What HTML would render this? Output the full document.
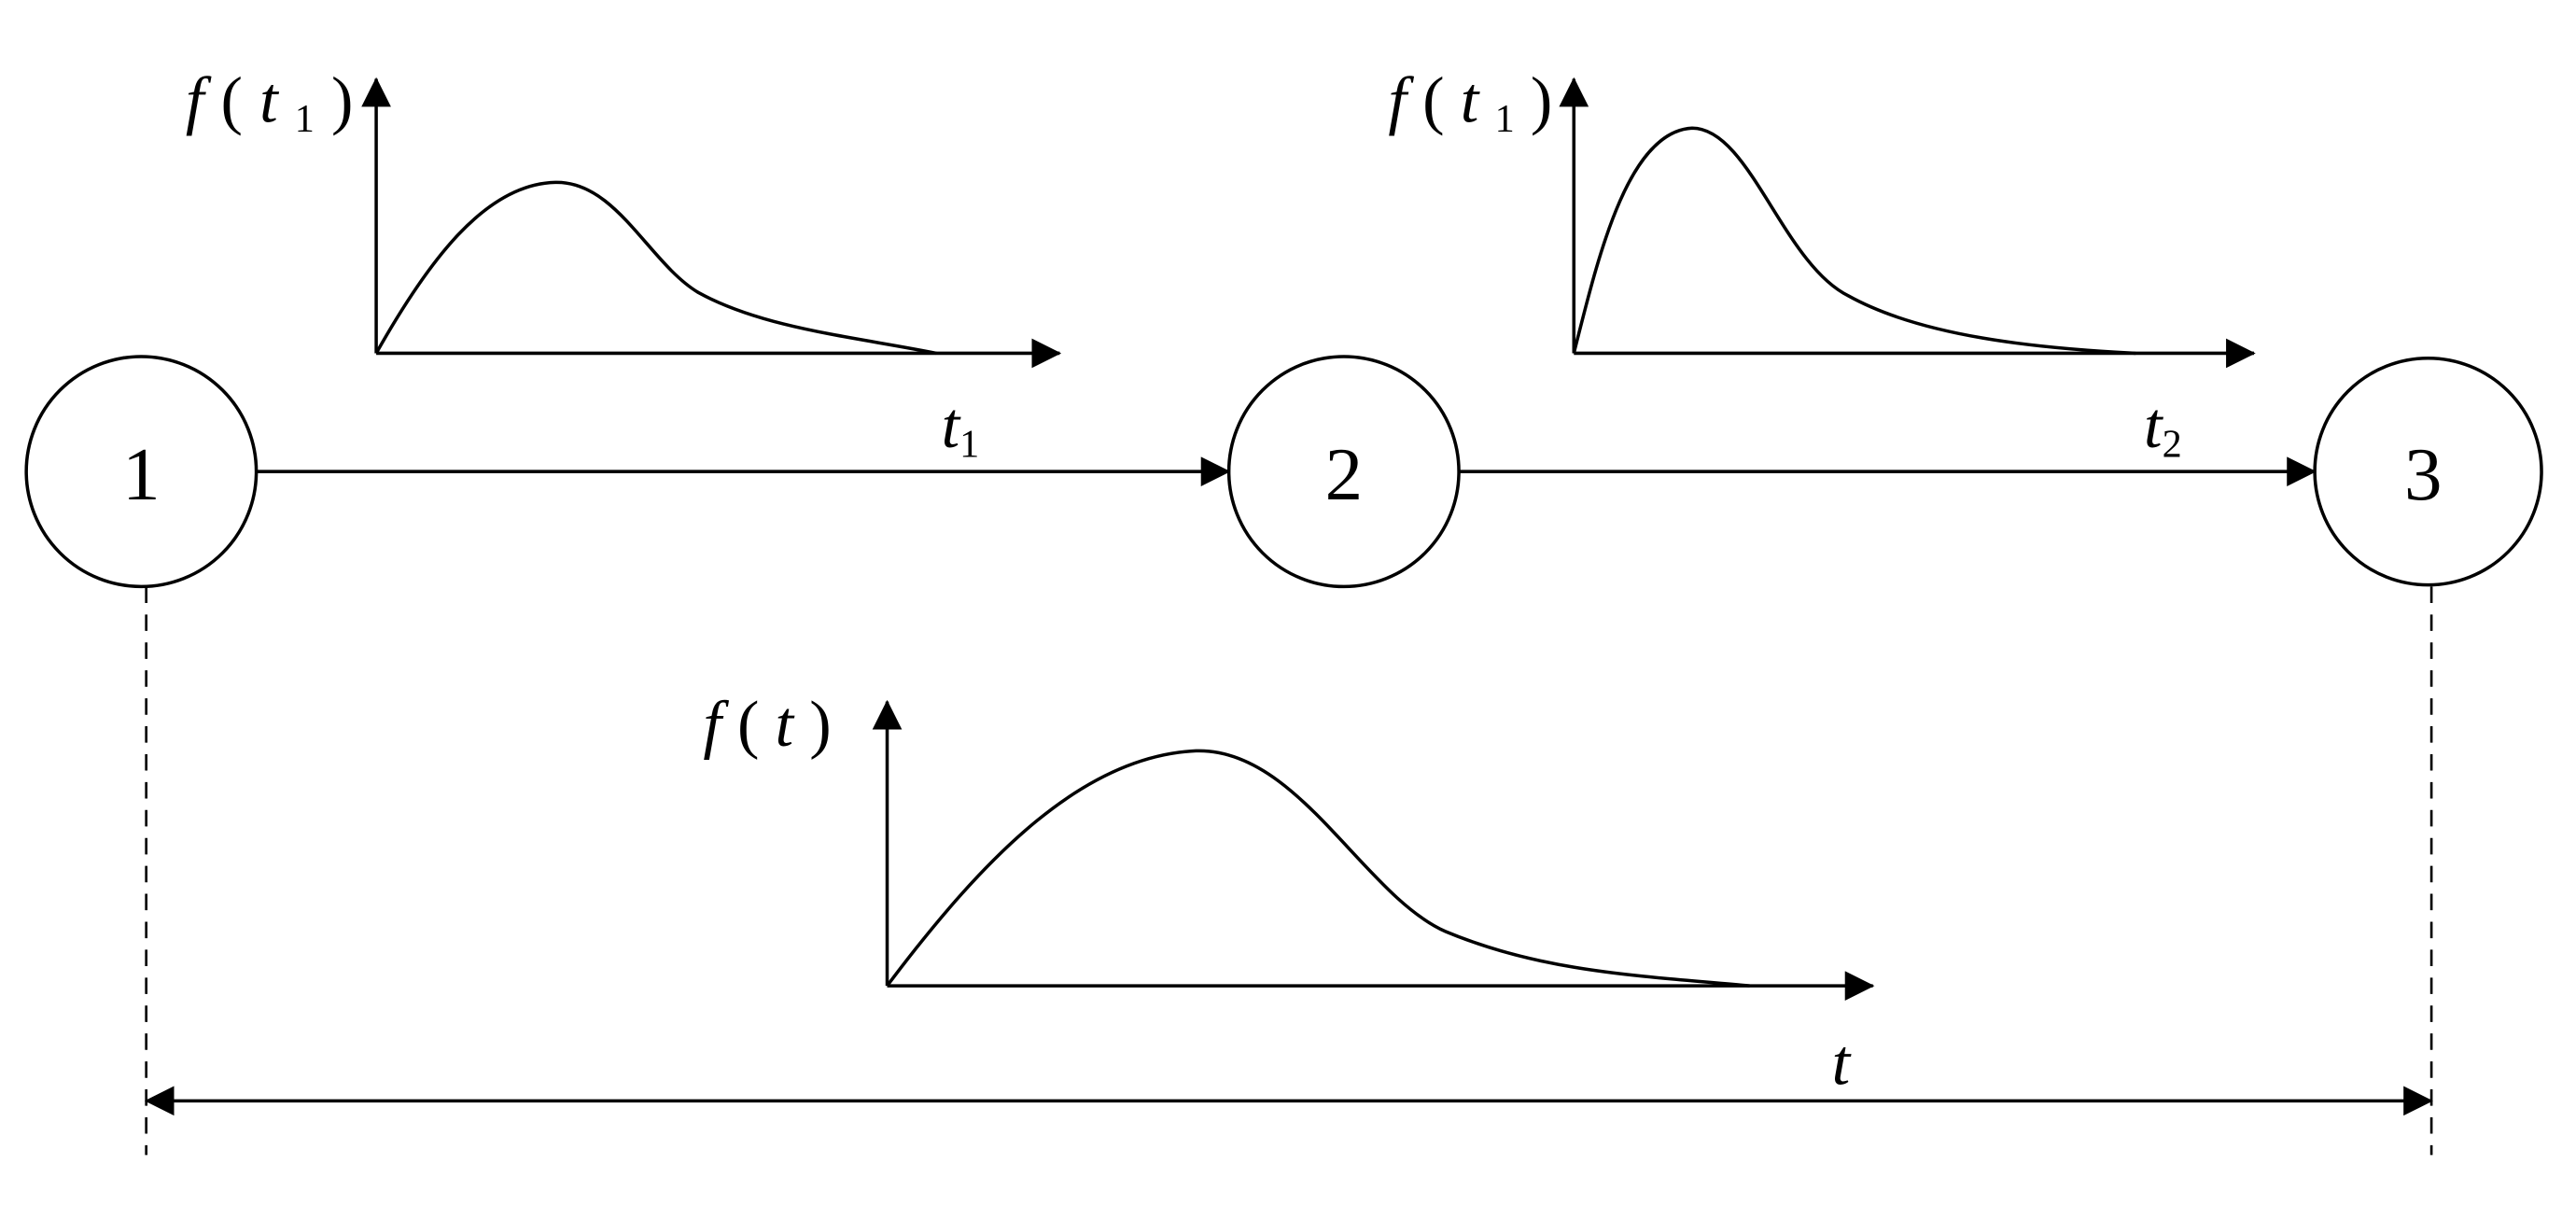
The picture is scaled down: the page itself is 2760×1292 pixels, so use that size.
<!DOCTYPE html>
<html><head><style>html,body{margin:0;padding:0;background:#fff}svg{display:block}</style></head>
<body>
<svg width="2760" height="1292" viewBox="0 0 1568 734" preserveAspectRatio="none" xmlns="http://www.w3.org/2000/svg">
<defs>
<marker id="ah2" markerWidth="18" markerHeight="18" refX="17" refY="9" orient="auto-start-reverse" markerUnits="userSpaceOnUse" viewBox="0 0 18 18">
<path d="M0,0 L18,9 L0,18 z" fill="#000"/></marker>
</defs>
<g fill="none" stroke="#000" stroke-width="2">
<circle cx="86" cy="287" r="70"/>
<circle cx="818" cy="287" r="70"/>
<circle cx="1478" cy="287" r="69"/>
<line x1="156" y1="287" x2="748" y2="287" marker-end="url(#ah2)"/>
<line x1="888" y1="287" x2="1409" y2="287" marker-end="url(#ah2)"/>
<line x1="229" y1="215" x2="229" y2="48" marker-end="url(#ah2)"/>
<line x1="229" y1="215" x2="645" y2="215" marker-end="url(#ah2)"/>
<path d="M229,215 C260,160 295,112 338,111 C375,110 395,160 425,178 C465,200 520,205 570,215"/>
<line x1="958" y1="215" x2="958" y2="48" marker-end="url(#ah2)"/>
<line x1="958" y1="215" x2="1372" y2="215" marker-end="url(#ah2)"/>
<path d="M958,215 C972,160 990,80 1030,78 C1065,78 1085,160 1125,180 C1170,205 1240,212 1300,215"/>
<line x1="540" y1="600" x2="540" y2="427" marker-end="url(#ah2)"/>
<line x1="540" y1="600" x2="1140" y2="600" marker-end="url(#ah2)"/>
<path d="M540,600 C600,520 660,460 728,457 C790,455 830,545 880,567 C940,592 1000,594 1065,600"/>
<line x1="89" y1="357" x2="89" y2="703" stroke-dasharray="10,7" stroke-width="1.5"/>
<line x1="1480" y1="357" x2="1480" y2="703" stroke-dasharray="10,7" stroke-width="1.5"/>
<line x1="89" y1="670" x2="1480" y2="670" marker-start="url(#ah2)" marker-end="url(#ah2)"/>
</g>
<g font-family="'Liberation Serif', serif" fill="#000">
<text x="86" y="304" font-size="46" text-anchor="middle">1</text>
<text x="818" y="304" font-size="46" text-anchor="middle">2</text>
<text x="1475" y="304" font-size="46" text-anchor="middle">3</text>
<g font-style="italic" font-size="40">
<text x="113" y="74" textLength="102" lengthAdjust="spacing">f<tspan font-style="normal">(</tspan>t<tspan font-size="24" font-style="normal" dy="6">1</tspan><tspan font-style="normal" dy="-6">)</tspan></text>
<text x="845" y="74" textLength="100" lengthAdjust="spacing">f<tspan font-style="normal">(</tspan>t<tspan font-size="24" font-style="normal" dy="6">1</tspan><tspan font-style="normal" dy="-6">)</tspan></text>
<text x="428" y="454" textLength="78" lengthAdjust="spacing">f<tspan font-style="normal">(</tspan>t<tspan font-style="normal">)</tspan></text>
<text x="573" y="272">t<tspan font-size="24" font-style="normal" dy="6">1</tspan></text>
<text x="1305" y="272">t<tspan font-size="24" font-style="normal" dy="6">2</tspan></text>
<text x="1115" y="660">t</text>
</g>
</g>
</svg>
</body></html>
